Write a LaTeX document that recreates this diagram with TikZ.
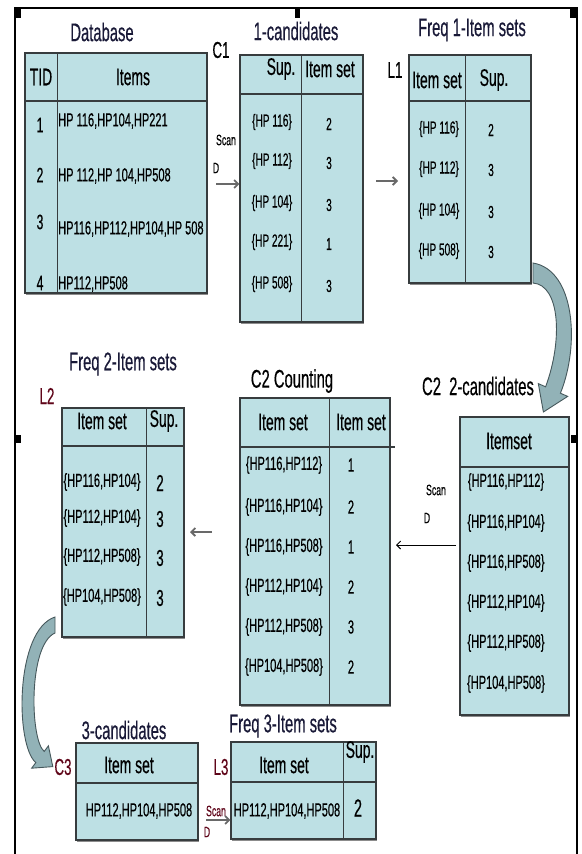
\documentclass[tikz,border=0pt]{standalone}
\usepackage{fontspec}
\setmainfont{Liberation Sans}[FakeStretch=0.58,FakeBold=0.4]
\usetikzlibrary{arrows.meta,shadows}
\definecolor{tabfill}{RGB}{189,224,228}
\definecolor{tabline}{RGB}{55,60,62}
\definecolor{bandfill}{RGB}{146,178,183}
\definecolor{bandline}{RGB}{70,88,92}
\definecolor{maroon}{RGB}{95,5,25}
\definecolor{navy}{RGB}{25,25,55}
\definecolor{arrowgray}{RGB}{105,105,105}
\begin{document}
\begin{tikzpicture}[x=1pt,y=-1pt,
  tab/.style={draw=tabline, fill=tabfill, line width=1.1pt, inner sep=0pt,
    general shadow={fill=black!45, shadow xshift=0.8pt, shadow yshift=-1.6pt}},
  hsep/.style={draw=tabline, line width=2pt},
  vsep/.style={draw=tabline, line width=1pt},
  title/.style={font=\fontsize{25.5}{27}\selectfont, text=navy, inner sep=0pt},
  hdr/.style={font=\fontsize{24}{26}\selectfont, inner sep=0pt},
  cell/.style={font=\fontsize{19}{21}\selectfont, inner sep=0pt},
  smallcell/.style={font=\fontsize{17.4}{19}\selectfont, inner sep=0pt},
  num/.style={font=\fontsize{21}{23}\selectfont, inner sep=0pt},
  lbl/.style={font=\fontsize{23}{25}\selectfont, inner sep=0pt},
  scantxt/.style={font=\fontsize{15}{16}\selectfont, inner sep=0pt},
  garrow/.style={draw=arrowgray, line width=1.8pt, -{Straight Barb[length=4pt,width=8pt]}},
  barrow/.style={draw=black, line width=0.9pt, -{Straight Barb[length=4pt,width=8pt]}},
  band/.style={fill=bandfill, draw=bandline, line width=0.9pt},
  frameline/.style={draw=black, line width=2.6pt},
]
\useasboundingbox (0,0) rectangle (581,854);
% frame
\draw[frameline] (15,854) -- (15,8) -- (577,8) -- (577,854);
\fill (13.7,6.7) rectangle (21,18);
\fill (570,6.7) rectangle (578.3,18);
\fill (294.5,6.7) rectangle (299.5,18);
\fill (13.7,435) rectangle (21,443);
\fill (571,435) rectangle (578.3,443);

% ---------- Database ----------
\node[title] (dbt) at (102,32) {Database};
\node[tab, minimum width=182pt, minimum height=240pt] (db) at (116,173) {};
\draw[hsep] (25,101) -- (207,101);
\draw[vsep] (57,53) -- (57,293);
\node[hdr] (dbh1) at (41,77) {TID};
\node[hdr] (dbh2) at (133,77) {Items};
\node[num] (dbn1) at (40,125) {1};
\node[num] (dbn2) at (40,175) {2};
\node[num] (dbn3) at (40,222) {3};
\node[num] (dbn4) at (40,283) {4};
\node[cell, anchor=west] (dbi1) at (58,121) {HP 116,HP104,HP221};
\node[cell, anchor=west] (dbi2) at (58,176) {HP 112,HP 104,HP508};
\node[cell, anchor=west] (dbi3) at (58,229) {HP116,HP112,HP104,HP 508};
\node[cell, anchor=west] (dbi4) at (58,284) {HP112,HP508};

% ---------- C1 ----------
\node[lbl] (c1l) at (221,50) {C1};
\node[title] (c1t) at (296,31) {1-candidates};
\node[tab, minimum width=123pt, minimum height=267pt] (c1) at (301.5,188.5) {};
\draw[hsep] (240,94) -- (363,94);
\draw[vsep] (301,55) -- (301,322);
\node[hdr] (c1h1) at (281,69) {Sup.};
\node[hdr] (c1h2) at (330,69) {Item set};
\node[smallcell] (c1a) at (272,122) {\{HP 116\}};
\node[smallcell] (c1b) at (272,161) {\{HP 112\}};
\node[smallcell] (c1c) at (272,203) {\{HP 104\}};
\node[smallcell] (c1d) at (272,242) {\{HP 221\}};
\node[smallcell] (c1e) at (272,284) {\{HP 508\}};
\node[smallcell] (c1va) at (329,124) {2};
\node[smallcell] (c1vb) at (329,163) {3};
\node[smallcell] (c1vc) at (329,205) {3};
\node[smallcell] (c1vd) at (329,244) {1};
\node[smallcell] (c1ve) at (329,286) {3};
\node[scantxt] (s1a) at (226,140) {Scan};
\node[scantxt] (s1b) at (216,168) {D};
\coordinate (a1s) at (216,184);
\draw[garrow] (a1s) -- (c1.west |- a1s);

% ---------- L1 ----------
\node[lbl] (l1l) at (395,70) {L1};
\node[title] (l1t) at (472,30) {Freq 1-Item sets};
\node[tab, minimum width=122pt, minimum height=228pt] (l1) at (470,169) {};
\draw[hsep] (409,101) -- (531,101);
\draw[vsep] (465,55) -- (465,283);
\node[hdr] (l1h1) at (437,80) {Item set};
\node[hdr] (l1h2) at (494,80) {Sup.};
\node[smallcell] (l1a) at (439,129) {\{HP 116\}};
\node[smallcell] (l1b) at (439,169) {\{HP 112\}};
\node[smallcell] (l1c) at (439,211) {\{HP 104\}};
\node[smallcell] (l1d) at (439,251) {\{HP 508\}};
\node[smallcell] (l1va) at (491,130) {2};
\node[smallcell] (l1vb) at (491,170) {3};
\node[smallcell] (l1vc) at (491,212) {3};
\node[smallcell] (l1vd) at (491,252) {3};
\coordinate (a2s) at (376,181);
\coordinate (a2e) at (398,181);
\draw[garrow] (a2s) -- (a2e);

% curved band arrow L1 -> C2
\path[band] (533,263) .. controls (575,270) and (580,345) .. (560.4,393.2)
  -- (567.7,396.4) -- (543.4,412) -- (538.3,383.6) -- (545.6,386.8)
  .. controls (563,340) and (560,285) .. (533,283) -- cycle;

% ---------- C2 candidates ----------
\node[title, text=black] (c2cl) at (478,386) {C2\ \ 2-candidates};
\node[tab, minimum width=109pt, minimum height=298pt] (c2c) at (514.5,566) {};
\draw[hsep] (460,467) -- (569,467);
\node[hdr] (c2ch) at (509,441) {Itemset};
\node[cell] (c2ca) at (506,482) {\{HP116,HP112\}};
\node[cell] (c2cb) at (506,523) {\{HP116,HP104\}};
\node[cell] (c2cc) at (506,563) {\{HP116,HP508\}};
\node[cell] (c2cd) at (506,603) {\{HP112,HP104\}};
\node[cell] (c2ce) at (506,643) {\{HP112,HP508\}};
\node[cell] (c2cf) at (506,684) {\{HP104,HP508\}};
\node[scantxt] (s2a) at (436,490) {Scan};
\node[scantxt] (s2b) at (427,518) {D};
\coordinate (a3s) at (456,545);
\coordinate (a3e) at (396,545);
\draw[barrow] (a3s) -- (a3e);

% ---------- C2 counting ----------
\node[title, text=black] (c2nt) at (292,381) {C2 Counting};
\node[tab, minimum width=150pt, minimum height=307pt] (c2n) at (315,551.5) {};
\draw[hsep] (240,447) -- (395,447);
\draw[vsep] (329,398) -- (329,705);
\node[hdr] (c2nh1) at (283,422) {Item set};
\node[hdr] (c2nh2) at (361,422) {Item set};
\node[cell] (c2na) at (284,465) {\{HP116,HP112\}};
\node[cell] (c2nb) at (284,507) {\{HP116,HP104\}};
\node[cell] (c2nc) at (284,547) {\{HP116,HP508\}};
\node[cell] (c2nd) at (284,587) {\{HP112,HP104\}};
\node[cell] (c2ne) at (284,627) {\{HP112,HP508\}};
\node[cell] (c2nf) at (284,667) {\{HP104,HP508\}};
\node[cell] (c2nva) at (351,465) {1};
\node[cell] (c2nvb) at (351,507) {2};
\node[cell] (c2nvc) at (351,547) {1};
\node[cell] (c2nvd) at (351,587) {2};
\node[cell] (c2nve) at (351,627) {3};
\node[cell] (c2nvf) at (351,667) {2};
\coordinate (a4s) at (212,532);
\coordinate (a4e) at (190,532);
\draw[garrow] (a4s) -- (a4e);

% ---------- L2 ----------
\node[title] (l2t) at (123,364) {Freq 2-Item sets};
\node[lbl, text=maroon] (l2l) at (47,396) {L2};
\node[tab, minimum width=122pt, minimum height=229pt] (l2) at (123,522.5) {};
\draw[hsep] (62,446) -- (184,446);
\draw[vsep] (146,408) -- (146,637);
\node[hdr] (l2h1) at (102,421) {Item set};
\node[hdr] (l2h2) at (164,421) {Sup.};
\node[cell] (l2a) at (102,482) {\{HP116,HP104\}};
\node[cell] (l2b) at (102,518) {\{HP112,HP104\}};
\node[cell] (l2c) at (102,557) {\{HP112,HP508\}};
\node[cell] (l2d) at (102,597) {\{HP104,HP508\}};
\node[num, font=\fontsize{23}{25}\selectfont] (l2va) at (160,483) {2};
\node[num, font=\fontsize{23}{25}\selectfont] (l2vb) at (160,519) {3};
\node[num, font=\fontsize{23}{25}\selectfont] (l2vc) at (160,558) {3};
\node[num, font=\fontsize{23}{25}\selectfont] (l2vd) at (160,598) {3};

% curved band arrow L2 -> C3
\path[band] (55,617) .. controls (15,630) and (15,745) .. (35.8,762.6)
  -- (31.6,768.2) -- (52.8,766.6) -- (48.4,745.8) -- (44.2,751.4)
  .. controls (30,740) and (28,645) .. (55,633) -- cycle;

% ---------- C3 ----------
\node[title] (c3t) at (124,730) {3-candidates};
\node[lbl, text=maroon] (c3l) at (63,767) {C3};
\node[tab, minimum width=122pt, minimum height=97pt] (c3) at (137,791.5) {};
\draw[hsep] (76,783) -- (198,783);
\node[hdr] (c3h) at (129,765) {Item set};
\node[cell] (c3a) at (139,811) {HP112,HP104,HP508};

% ---------- L3 ----------
\node[title] (l3t) at (283,726) {Freq 3-Item sets};
\node[lbl, text=maroon] (l3l) at (221,767) {L3};
\node[tab, minimum width=145pt, minimum height=97pt] (l3) at (303.5,790.5) {};
\draw[hsep] (231,782) -- (376,782);
\draw[vsep] (343,742) -- (343,839);
\node[hdr] (l3h1) at (284,765) {Item set};
\node[hdr] (l3h2) at (360,752) {Sup.};
\node[cell] (l3a) at (287,811) {HP112,HP104,HP508};
\node[num, font=\fontsize{25}{27}\selectfont] (l3v) at (358,808) {2};
\node[scantxt, text=maroon] (s3a) at (216,811) {Scan};
\node[scantxt, text=maroon] (s3b) at (207,832) {D};
\coordinate (a5s) at (206,820);
\draw[garrow] (a5s) -- (l3.west |- a5s);
\end{tikzpicture}
\end{document}
